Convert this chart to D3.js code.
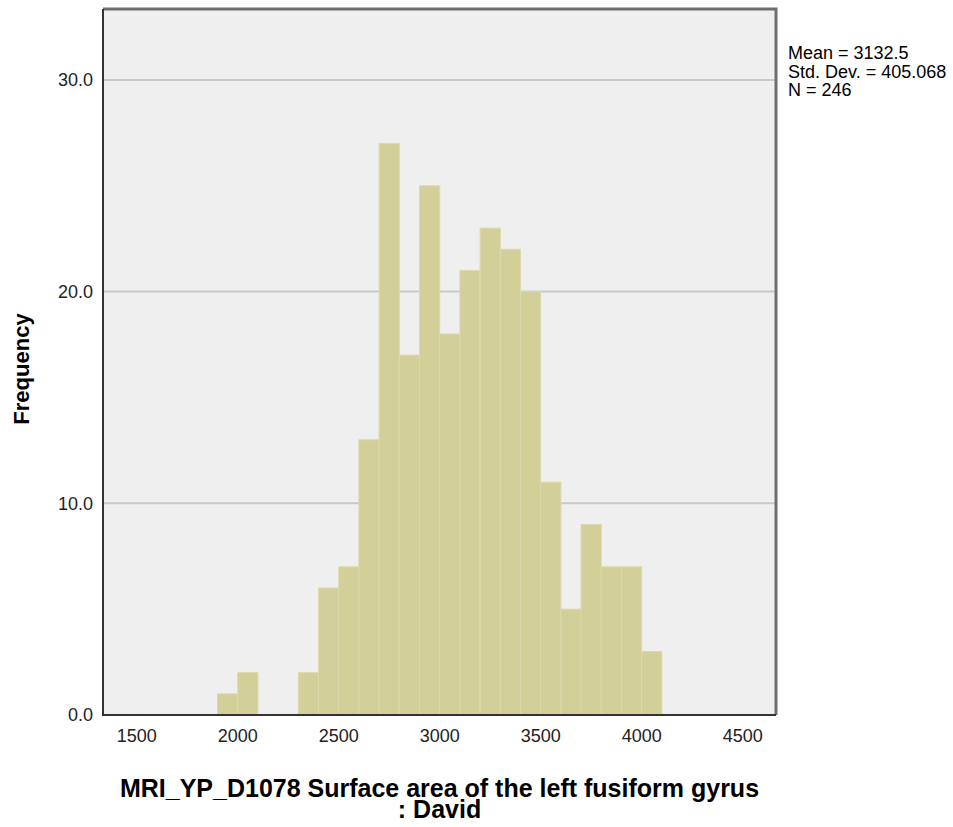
<!DOCTYPE html>
<html>
<head>
<meta charset="utf-8">
<script src="https://cdn.jsdelivr.net/npm/d3@7"></script>
<style>
  body { margin: 0; background: #fff; }
  svg { display: block; font-family: "Liberation Sans", Arial, sans-serif; }
</style>
</head>
<body>
<svg id="chart" width="953" height="827"></svg>
<script>
// histogram bins (lower edge, width 100) and counts
var binStarts = [1900, 2000, 2100, 2200, 2300, 2400, 2500, 2600, 2700, 2800, 2900,
                 3000, 3100, 3200, 3300, 3400, 3500, 3600, 3700, 3800, 3900, 4000];
var counts = [1, 2, 0, 0, 2, 6, 7, 13, 27, 17, 25,
              18, 21, 23, 22, 20, 11, 5, 9, 7, 7, 3];
var binWidth = 100;
var xTicks = [1500, 2000, 2500, 3000, 3500, 4000, 4500];
var yTicks = [0, 10, 20, 30];
var statsLines = ["Mean = 3132.5", "Std. Dev. = 405.068", "N = 246"];
var xTitle = ["MRI_YP_D1078 Surface area of the left fusiform gyrus", ": David"];
var yTitle = "Frequency";

function drawChart() {
    var pl = 103, pr = 776, pt = 9, pb = 715;
    var svg = d3.select("#chart");

    var x = d3.scaleLinear().domain([1333, 4665]).range([pl, pr]);
    var y = d3.scaleLinear().domain([0, 33.35]).range([pb, pt]);

    // plot background
    svg.append("rect")
        .attr("x", pl).attr("y", pt)
        .attr("width", pr - pl).attr("height", pb - pt)
        .attr("fill", "#efefef");

    // grid lines
    svg.append("g").selectAll("line")
        .data(yTicks.filter(function (d) { return d > 0; }))
        .join("line")
        .attr("x1", pl).attr("x2", pr)
        .attr("y1", function (d) { return y(d); })
        .attr("y2", function (d) { return y(d); })
        .attr("stroke", "#c9c9c9")
        .attr("stroke-width", 2);

    // bars
    var bins = binStarts.map(function (b, i) { return { x0: b, n: counts[i] }; });
    svg.append("g").selectAll("rect")
        .data(bins.filter(function (d) { return d.n > 0; }))
        .join("rect")
        .attr("x", function (d) { return x(d.x0); })
        .attr("y", function (d) { return y(d.n); })
        .attr("width", function (d) { return x(d.x0 + binWidth) - x(d.x0); })
        .attr("height", function (d) { return y(0) - y(d.n); })
        .attr("fill", "#d3cf98")
        .attr("stroke", "#dcd9ac")
        .attr("stroke-width", 1);

    // frame
    svg.append("path")
        .attr("d", "M" + pl + "," + pt + "H" + pr + "V" + pb)
        .attr("fill", "none")
        .attr("stroke", "#6e6e6e")
        .attr("stroke-width", 3);
    svg.append("path")
        .attr("d", "M" + pl + "," + pt + "V" + pb + "H" + pr)
        .attr("fill", "none")
        .attr("stroke", "#333")
        .attr("stroke-width", 2);

    // y tick labels
    svg.append("g").selectAll("text")
        .data(yTicks)
        .join("text")
        .attr("x", 93)
        .attr("y", function (d) { return y(d); })
        .attr("dy", "0.35em")
        .attr("text-anchor", "end")
        .attr("font-size", 18)
        .attr("fill", "#222")
        .text(function (d) { return d3.format(".1f")(d); });

    // x tick labels
    svg.append("g").selectAll("text")
        .data(xTicks)
        .join("text")
        .attr("x", function (d) { return x(d); })
        .attr("y", 742)
        .attr("text-anchor", "middle")
        .attr("font-size", 18)
        .attr("fill", "#222")
        .text(function (d) { return d; });

    // axis titles
    svg.append("text")
        .attr("transform", "translate(29,369) rotate(-90)")
        .attr("text-anchor", "middle")
        .attr("font-size", 22)
        .attr("font-weight", "bold")
        .attr("fill", "#000")
        .text(yTitle);

    svg.append("g").selectAll("text")
        .data(xTitle)
        .join("text")
        .attr("x", (pl + pr) / 2)
        .attr("y", function (d, i) { return 797 + i * 21; })
        .attr("text-anchor", "middle")
        .attr("font-size", 25)
        .attr("font-weight", "bold")
        .attr("fill", "#000")
        .text(function (d) { return d; });

    // statistics box
    svg.append("g").selectAll("text")
        .data(statsLines)
        .join("text")
        .attr("x", 788)
        .attr("y", function (d, i) { return 59 + i * 18.5; })
        .attr("font-size", 18)
        .attr("fill", "#000")
        .text(function (d) { return d; });
}

drawChart();
</script>
</body>
</html>
